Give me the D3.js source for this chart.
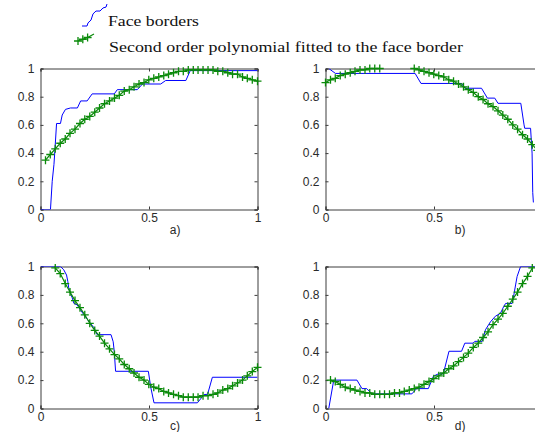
<!DOCTYPE html>
<html>
<head>
<meta charset="utf-8">
<script src="https://cdn.jsdelivr.net/npm/d3@7/dist/d3.min.js"></script>
<style>
  body { margin: 0; background: #fff; }
  svg { display: block; }
</style>
</head>
<body>
<div id="chart"></div>
<script>
// sample positions of the fitted polynomial (shared by all four panels)
const fitX = [0, 0.023, 0.045, 0.068, 0.091, 0.114, 0.136, 0.159, 0.182, 0.204,
  0.227, 0.250, 0.272, 0.295, 0.318, 0.341, 0.363, 0.386, 0.409, 0.431,
  0.454, 0.477, 0.499, 0.522, 0.545, 0.568, 0.590, 0.613, 0.636, 0.658,
  0.681, 0.704, 0.726, 0.749, 0.772, 0.795, 0.817, 0.840, 0.863, 0.885,
  0.908, 0.931, 0.953, 0.976, 1.0];

const fitA = [null, 0.35, 0.39, 0.43, 0.47, 0.50, 0.54, 0.57, 0.61, 0.64,
  0.66, 0.69, 0.72, 0.75, 0.77, 0.79, 0.81, 0.84, 0.85, 0.87,
  0.89, 0.90, 0.92, 0.93, 0.94, 0.95, 0.96, 0.97, 0.98, 0.98,
  0.99, 0.99, 0.99, 0.99, 0.99, 0.99, 0.98, 0.98, 0.97, 0.96,
  0.96, 0.94, 0.93, 0.92, 0.91];

const fitB = [0.90, 0.92, 0.93, 0.95, 0.96, 0.97, 0.98, 0.99, 0.99, 1.0,
  1.0, 1.0, 1.01, 1.02, 1.02, 1.01, 1.01, 1.01, 1.0, 0.99,
  0.98, 0.97, 0.96, 0.95, 0.94, 0.92, 0.91, 0.89, 0.87, 0.85,
  0.83, 0.80, 0.78, 0.75, 0.73, 0.70, 0.67, 0.64, 0.60, 0.57,
  0.53, 0.50, 0.46, 0.42, 0.38];

const fitC = [1.23, 1.15, 1.08, 0.99, 0.95, 0.88, 0.82, 0.76, 0.71, 0.66,
  0.60, 0.55, 0.51, 0.46, 0.42, 0.38, 0.35, 0.31, 0.28, 0.25,
  0.22, 0.20, 0.17, 0.15, 0.14, 0.12, 0.11, 0.10, 0.09, 0.08,
  0.08, 0.08, 0.08, 0.09, 0.09, 0.10, 0.11, 0.13, 0.14, 0.16,
  0.18, 0.20, 0.23, 0.26, 0.29];

const fitD = [null, 0.20, 0.19, 0.17, 0.15, 0.14, 0.13, 0.12, 0.11, 0.11,
  0.10, 0.10, 0.10, 0.10, 0.11, 0.11, 0.12, 0.13, 0.14, 0.15,
  0.17, 0.19, 0.21, 0.23, 0.25, 0.28, 0.30, 0.33, 0.36, 0.39,
  0.43, 0.46, 0.50, 0.54, 0.59, 0.63, 0.67, 0.72, 0.77, 0.82,
  0.88, 0.93, 0.99, 1.05, 1.11];

// face border traces, [x, y]
const borderA = [[0, 0], [0.046, 0], [0.054, 0.2], [0.062, 0.32], [0.066, 0.41], [0.074, 0.61],
  [0.092, 0.61], [0.1, 0.67], [0.115, 0.71], [0.138, 0.72], [0.17, 0.72], [0.185, 0.77],
  [0.215, 0.77], [0.238, 0.82], [0.34, 0.82], [0.354, 0.85], [0.446, 0.85], [0.47, 0.89],
  [0.554, 0.89], [0.577, 0.915], [0.67, 0.915], [0.69, 0.985], [1.0, 0.985]];

const borderB = [[0.015, 1.0], [0.046, 0.965], [0.413, 0.965], [0.44, 0.894], [0.627, 0.894],
  [0.642, 0.86], [0.719, 0.86], [0.746, 0.79], [0.78, 0.79], [0.795, 0.753], [0.9, 0.753],
  [0.915, 0.6], [0.918, 0.576], [0.945, 0.576], [0.952, 0.4], [0.955, 0.12], [0.958, 0.05]];

const borderC = [[0, 1], [0.092, 1], [0.107, 0.977], [0.12, 0.94], [0.126, 0.894], [0.13, 0.85],
  [0.138, 0.81], [0.146, 0.78], [0.154, 0.74], [0.169, 0.73], [0.184, 0.695], [0.2, 0.66],
  [0.215, 0.63], [0.23, 0.6], [0.246, 0.57], [0.261, 0.52], [0.325, 0.52], [0.335, 0.47],
  [0.34, 0.4], [0.346, 0.262], [0.497, 0.262], [0.508, 0.15], [0.523, 0.04], [0.723, 0.04],
  [0.754, 0.098], [0.77, 0.1], [0.792, 0.22], [1.0, 0.22]];

const borderD = [[0.015, 0], [0.038, 0.2], [0.145, 0.2], [0.168, 0.14], [0.19, 0.14], [0.214, 0.103],
  [0.398, 0.103], [0.42, 0.14], [0.474, 0.14], [0.497, 0.227], [0.52, 0.244], [0.543, 0.244],
  [0.569, 0.403], [0.627, 0.403], [0.642, 0.46], [0.68, 0.46], [0.688, 0.473], [0.722, 0.473],
  [0.737, 0.554], [0.76, 0.61], [0.783, 0.65], [0.806, 0.67], [0.822, 0.72], [0.83, 0.74],
  [0.86, 0.74], [0.868, 0.8], [0.876, 0.87], [0.883, 0.93], [0.899, 1.0], [1.0, 1.0]];

const xTicks = [0, 0.5, 1];
const xTickLabels = ["0", "0.5", "1"];
const yTicks = [0, 0.2, 0.4, 0.6, 0.8, 1];
const yTickLabels = ["0", "0.2", "0.4", "0.6", "0.8", "1"];
const panelLabels = ["a)", "b)", "c)", "d)"];
const legendLabels = ["Face borders", "Second order polynomial fitted to the face border"];

// legend glyph shapes in unit space
const legendBorder = [[0, 0], [0.2, 0], [0.24, 0.14], [0.36, 0.27], [0.44, 0.55], [0.56, 0.68],
  [0.72, 0.68], [0.84, 0.82], [0.96, 0.86], [1, 1]];
const legendFit = [[0, 0], [0.3, 0.25], [0.6, 0.5], [1, 1]];

const width = 535, height = 432;
const blue = "#0000ff", green = "#0a8a0a", axisColor = "#3c3c3c";

const svg = d3.select("#chart").append("svg")
  .attr("width", width)
  .attr("height", height)
  .attr("viewBox", [0, 0, width, height]);

svg.append("rect").attr("width", width).attr("height", height).attr("fill", "#fff");

const panels = [
  {left: 40.5, top: 68.5, bottom: 209.5, fit: fitA, border: borderA, labelDy: 24},
  {left: 325.5, top: 68.5, bottom: 209.5, fit: fitB, border: borderB, labelDy: 24},
  {left: 40.5, top: 266.5, bottom: 408.5, fit: fitC, border: borderC, labelDy: 21},
  {left: 325.5, top: 266.5, bottom: 408.5, fit: fitD, border: borderD, labelDy: 21}
];

const plusPath = "M-4,0H4M0,-4V4";

panels.forEach((p, i) => {
  const x = d3.scaleLinear().domain([0, 1]).range([p.left, p.left + 217]);
  const y = d3.scaleLinear().domain([0, 1]).range([p.bottom, p.top]);
  const g = svg.append("g");

  g.append("clipPath").attr("id", "clip" + i)
    .append("rect")
    .attr("x", x(0)).attr("y", y(1))
    .attr("width", x(1) - x(0)).attr("height", y(0) - y(1));

  // only label the x ticks that fall inside the picture
  const shownX = xTicks.filter(t => x(t) < width - 4);

  // axes with inward ticks on all sides
  g.append("g")
    .attr("transform", `translate(0,${y(0)})`)
    .call(d3.axisBottom(x).tickValues(xTicks)
      .tickFormat((d, j) => shownX.includes(d) ? xTickLabels[j] : "")
      .tickSize(-3).tickPadding(4));
  g.append("g")
    .attr("transform", `translate(0,${y(1)})`)
    .call(d3.axisTop(x).tickValues(xTicks).tickFormat("").tickSize(-3));
  g.append("g")
    .attr("transform", `translate(${x(0)},0)`)
    .call(d3.axisLeft(y).tickValues(yTicks).tickFormat((d, j) => yTickLabels[j]).tickSize(-3).tickPadding(6));
  g.append("g")
    .attr("transform", `translate(${x(1)},0)`)
    .call(d3.axisRight(y).tickValues(yTicks).tickFormat("").tickSize(-3));

  g.selectAll(".domain").attr("stroke", axisColor);
  g.selectAll(".tick line").attr("stroke", axisColor);
  g.selectAll(".tick text")
    .attr("fill", "#2a2a2a")
    .attr("font-family", "'Liberation Sans', Arial, sans-serif")
    .attr("font-size", 12);
  g.selectAll(".tick text").filter(function () { return this.textContent === ""; }).remove();

  const plot = g.append("g").attr("clip-path", `url(#clip${i})`);

  plot.append("path")
    .datum(p.border)
    .attr("fill", "none")
    .attr("stroke", blue)
    .attr("stroke-width", 1)
    .attr("d", d3.line().x(d => x(d[0])).y(d => y(d[1])));

  const fitPts = fitX.map((v, j) => [v, p.fit[j]]);
  plot.append("path")
    .datum(fitPts)
    .attr("fill", "none")
    .attr("stroke", green)
    .attr("stroke-width", 1.2)
    .attr("d", d3.line().defined(d => d[1] != null).x(d => x(d[0])).y(d => y(d[1])));

  g.append("g").selectAll("path")
    .data(fitPts.filter(d => d[1] != null && d[1] <= 1.0))
    .join("path")
    .attr("transform", d => `translate(${x(d[0])},${y(d[1])})`)
    .attr("d", plusPath)
    .attr("fill", "none")
    .attr("stroke", green)
    .attr("stroke-width", 1.3);

  g.append("text")
    .attr("x", x(0.62))
    .attr("y", p.bottom + p.labelDy)
    .attr("text-anchor", "middle")
    .attr("font-family", "'Liberation Sans', Arial, sans-serif")
    .attr("font-size", 12)
    .attr("fill", "#2a2a2a")
    .text(panelLabels[i]);
});

// legend
const lx1 = d3.scaleLinear().domain([0, 1]).range([82, 107]);
const ly1 = d3.scaleLinear().domain([0, 1]).range([26, 4]);
svg.append("path")
  .datum(legendBorder)
  .attr("fill", "none")
  .attr("stroke", blue)
  .attr("d", d3.line().x(d => lx1(d[0])).y(d => ly1(d[1])));

const lx2 = d3.scaleLinear().domain([0, 1]).range([78, 94]);
const ly2 = d3.scaleLinear().domain([0, 1]).range([41, 34]);
svg.append("path")
  .datum(legendFit)
  .attr("fill", "none")
  .attr("stroke", green)
  .attr("stroke-width", 1.2)
  .attr("d", d3.line().x(d => lx2(d[0])).y(d => ly2(d[1])));
svg.append("g").selectAll("path")
  .data(legendFit.slice(0, 3))
  .join("path")
  .attr("transform", d => `translate(${lx2(d[0])},${ly2(d[1])})`)
  .attr("d", plusPath)
  .attr("stroke", green)
  .attr("stroke-width", 1.3);

svg.append("g").selectAll("text")
  .data(legendLabels)
  .join("text")
  .attr("x", (d, j) => j === 0 ? 108 : 109)
  .attr("y", (d, j) => j === 0 ? 26 : 52)
  .attr("font-family", "'Liberation Serif', 'Times New Roman', serif")
  .attr("font-size", 15)
  .attr("fill", "#111")
  .attr("textLength", (d, j) => j === 0 ? 91 : 354)
  .attr("lengthAdjust", "spacingAndGlyphs")
  .text(d => d);
</script>
</body>
</html>
